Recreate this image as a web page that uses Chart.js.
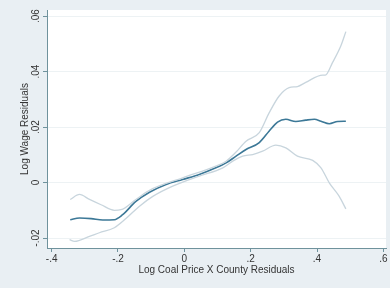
<!DOCTYPE html>
<html>
<head>
<meta charset="utf-8">
<script src="https://cdn.jsdelivr.net/npm/chart.js@4"></script>
<style>
html,body{margin:0;padding:0;background:#e9eff3;}
#wrap{width:390px;height:288px;}
</style>
</head>
<body>
<div id="wrap"><canvas id="chart" width="390" height="288"></canvas></div>
<script>
const xTicks=[-0.4,-0.2,0,0.2,0.4,0.6];
const yTicks=[-0.02,0,0.02,0.04,0.06];

const xMain=[-0.344,-0.316,-0.281,-0.246,-0.211,-0.186,-0.146,-0.105,-0.055,-0.005,0.045,0.095,0.126,0.156,0.186,0.226,0.256,0.281,0.306,0.336,0.366,0.392,0.412,0.437,0.462,0.487];
const yMain=[-0.0134,-0.0128,-0.0130,-0.0135,-0.0134,-0.0116,-0.0068,-0.0035,-0.0007,0.0011,0.0029,0.0053,0.0071,0.0095,0.0119,0.0144,0.0186,0.0218,0.0228,0.0220,0.0225,0.0228,0.0221,0.0212,0.0220,0.0221];

const xUpper=[-0.344,-0.316,-0.286,-0.251,-0.211,-0.191,-0.146,-0.105,-0.005,0.095,0.126,0.156,0.186,0.226,0.256,0.286,0.316,0.341,0.366,0.417,0.425,0.447,0.472,0.487];
const yUpper=[-0.0061,-0.0043,-0.0061,-0.0080,-0.0100,-0.0098,-0.0061,-0.0028,0.0017,0.0059,0.0077,0.0110,0.0149,0.0180,0.0252,0.0312,0.0342,0.0346,0.0361,0.0387,0.0387,0.0433,0.0493,0.0544];

const xLower=[-0.346,-0.331,-0.286,-0.256,-0.211,-0.176,-0.136,-0.095,-0.035,0.045,0.116,0.146,0.176,0.206,0.236,0.276,0.306,0.341,0.387,0.412,0.437,0.467,0.487];
const yLower=[-0.0206,-0.0212,-0.0194,-0.0181,-0.0163,-0.0130,-0.0086,-0.0050,-0.0013,0.0023,0.0053,0.0077,0.0095,0.0101,0.0113,0.0135,0.0125,0.0095,0.0080,0.0053,-0.0001,-0.0050,-0.0095];

const pts=(xs,ys)=>xs.map((x,i)=>({x:x,y:ys[i]}));
const stataLabel=v=>{
  if(Math.abs(v)<1e-9)return '0';
  const s=String(+v.toFixed(2));
  return s.replace(/^(-?)0\./,'$1.');
};
const axisColor='#6f929c';
const font={family:'"Liberation Sans", Arial, sans-serif',size:10};

const background={
  id:'background',
  beforeDraw(chart){
    const {ctx,chartArea:a}=chart;
    ctx.save();
    ctx.fillStyle='#e9eff3';
    ctx.fillRect(0,0,chart.width,chart.height);
    ctx.fillStyle='#ffffff';
    ctx.fillRect(a.left,a.top,a.right-a.left,a.bottom-a.top);
    ctx.restore();
  }
};

// Stata draws y tick labels turned on their side
const yLabels={
  id:'yLabels',
  afterDraw(chart){
    const {ctx,scales:{y}}=chart;
    ctx.save();
    ctx.fillStyle='#333333';
    ctx.font='10px "Liberation Sans", Arial, sans-serif';
    ctx.textAlign='center';
    ctx.textBaseline='middle';
    yTicks.forEach(v=>{
      const py=y.getPixelForValue(v);
      ctx.save();
      ctx.translate(36,py);
      ctx.rotate(-Math.PI/2);
      ctx.fillText(stataLabel(v),0,0);
      ctx.restore();
    });
    ctx.restore();
  }
};

new Chart(document.getElementById('chart'),{
  type:'line',
  data:{datasets:[
    {label:'upper',data:pts(xUpper,yUpper),borderColor:'#c8d5dd',borderWidth:1.3,pointRadius:0,tension:0.4,cubicInterpolationMode:'monotone'},
    {label:'lower',data:pts(xLower,yLower),borderColor:'#c8d5dd',borderWidth:1.3,pointRadius:0,tension:0.4,cubicInterpolationMode:'monotone'},
    {label:'fit',data:pts(xMain,yMain),borderColor:'#3c7897',borderWidth:1.6,pointRadius:0,tension:0.4,cubicInterpolationMode:'monotone'}
  ]},
  options:{
    responsive:false,
    animation:false,
    layout:{padding:{top:10,right:4,bottom:0,left:0}},
    plugins:{legend:{display:false},tooltip:{enabled:false}},
    scales:{
      x:{
        type:'linear',min:-0.414,max:0.608,
        afterBuildTicks:s=>{s.ticks=xTicks.map(v=>({value:v}));},
        afterFit:s=>{s.height=40;},
        border:{color:axisColor,width:1},
        grid:{drawOnChartArea:false,color:axisColor,tickLength:4},
        ticks:{color:'#333333',font:font,padding:1,maxRotation:0,callback:v=>stataLabel(v)},
        title:{display:true,text:'Log Coal Price X County Residuals',color:'#333333',font:font,padding:{top:0,bottom:12}}
      },
      y:{
        type:'linear',min:-0.0236,max:0.0622,
        afterBuildTicks:s=>{s.ticks=yTicks.map(v=>({value:v}));},
        afterFit:s=>{s.width=47;},
        border:{color:axisColor,width:1},
        grid:{color:'#edf2f4',tickColor:axisColor,tickLength:4},
        ticks:{display:false},
        title:{display:true,text:'Log Wage Residuals',color:'#333333',font:font,padding:{top:19,bottom:0}}
      }
    }
  },
  plugins:[background,yLabels]
});
</script>
</body>
</html>
